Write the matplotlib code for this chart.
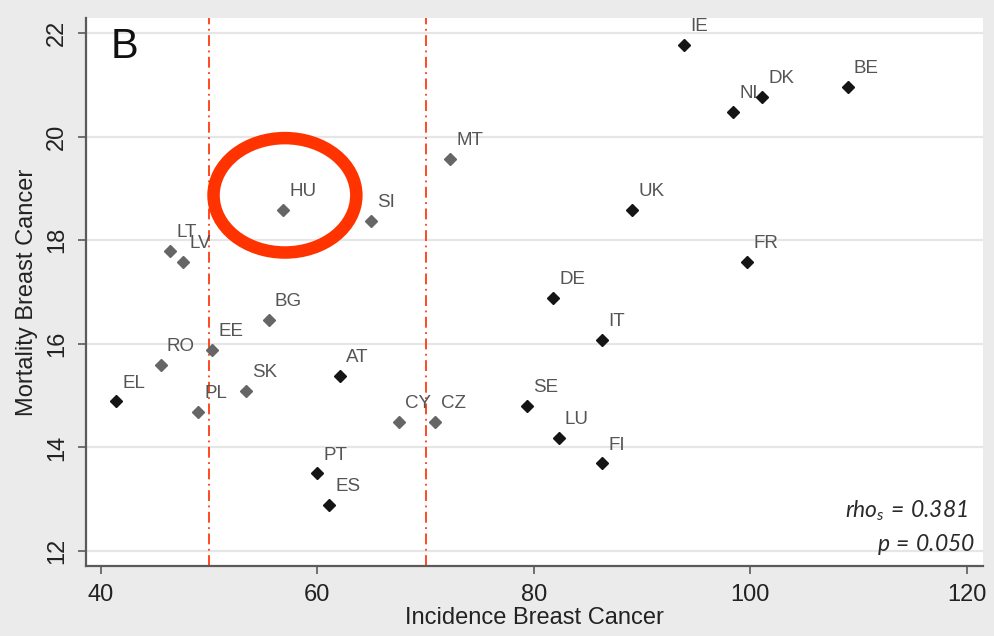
import matplotlib
matplotlib.use("Agg")
import matplotlib.pyplot as plt
from matplotlib.patches import Ellipse

plt.rcParams['font.family'] = ['Liberation Sans', 'DejaVu Sans']
plt.rcParams['mathtext.fontset'] = 'custom'
plt.rcParams['mathtext.rm'] = 'Lato:italic'
plt.rcParams['mathtext.it'] = 'Lato:italic'

countries = ["IE", "NL", "DK", "BE", "MT", "HU", "SI", "UK", "FR", "LT", "LV",
             "BG", "EE", "RO", "EL", "PL", "SK", "AT", "CY", "CZ", "PT", "ES",
             "DE", "IT", "SE", "LU", "FI"]
incidence = [93.9, 98.4, 101.1, 109.0, 72.25, 56.8, 64.95, 89.1, 99.7, 46.4, 47.6,
             55.5, 50.3, 45.5, 41.4, 48.95, 53.4, 62.05, 67.5, 70.85, 60.0, 61.05,
             81.8, 86.3, 79.4, 82.3, 86.3]
mortality = [21.78, 20.48, 20.77, 20.97, 19.58, 18.59, 18.38, 18.59, 17.59, 17.79, 17.58,
             16.47, 15.89, 15.59, 14.89, 14.69, 15.09, 15.38, 14.49, 14.49, 13.5, 12.89,
             16.89, 16.08, 14.8, 14.19, 13.69]
# 1 = newer member state (grey marker), 0 = black marker
grey_group = [0, 0, 0, 0, 1, 1, 1, 0, 0, 1, 1,
              1, 1, 1, 0, 1, 1, 0, 1, 1, 0, 0,
              0, 0, 0, 0, 0]

x_ticks = [40, 60, 80, 100, 120]
y_ticks = [12, 14, 16, 18, 20, 22]
ref_lines = [50, 70]
panel_label = "B"
rho_text = r"$rho_s\,=\,0.381$"
p_text = r"$p\,=\,0.050$"

# highlight ellipse (data coordinates)
ell_center = (57.0, 18.87)
ell_width = 13.2
ell_height = 2.21

fig = plt.figure(figsize=(9.94, 6.36), dpi=100, facecolor="#ebebeb")
ax = fig.add_axes([0.0865, 0.1101, 0.9024, 0.8616])
ax.set_facecolor("white")

ax.set_xlim(38.61, 121.52)
ax.set_ylim(11.71, 22.295)
ax.set_xticks(x_ticks)
ax.set_yticks(y_ticks)
ax.grid(axis="y", color="#e6e6e6", linewidth=1.6)
ax.set_axisbelow(True)

for s in ["top", "right"]:
    ax.spines[s].set_visible(False)
for s in ["left", "bottom"]:
    ax.spines[s].set_color("#5a5a5a")
    ax.spines[s].set_linewidth(1.6)

ax.tick_params(axis="both", colors="#5a5a5a", length=6, width=1.2, labelsize=17,
               labelcolor="#222222", pad=7)
for lab in ax.get_yticklabels():
    lab.set_rotation(90)
    lab.set_va("center")

ax.set_xlabel("Incidence Breast Cancer", fontsize=17, color="#222222", labelpad=1)
ax.set_ylabel("Mortality Breast Cancer", fontsize=17, color="#222222", labelpad=6)

for xv in ref_lines:
    ax.axvline(xv, color="#ff3a10", linewidth=1.3, linestyle=(0, (6, 2.5, 1, 2.5)), zorder=1)

for c, xv, yv, g in zip(countries, incidence, mortality, grey_group):
    col = "#666666" if g else "#151515"
    ax.plot(xv, yv, marker="D", markersize=6.5, color=col, linestyle="none", zorder=4)
    ax.annotate(c, (xv, yv), xytext=(4.5, 7), textcoords="offset points",
                ha="left", va="bottom", fontsize=13.5, color="#555555", zorder=3)

ax.add_patch(Ellipse(ell_center, ell_width, ell_height, fill=False,
                     edgecolor="#ff3300", linewidth=9, zorder=5))

ax.text(0.027, 0.927, panel_label, transform=ax.transAxes, fontsize=30,
        ha="left", va="baseline", color="#111111")
ax.text(0.983, 0.089, rho_text, transform=ax.transAxes, fontsize=16.5,
        ha="right", va="baseline", color="#2a2a2a")
ax.text(0.991, 0.027, p_text, transform=ax.transAxes, fontsize=16.5,
        ha="right", va="baseline", color="#2a2a2a")

fig.savefig("out.png", dpi=100, facecolor=fig.get_facecolor())
